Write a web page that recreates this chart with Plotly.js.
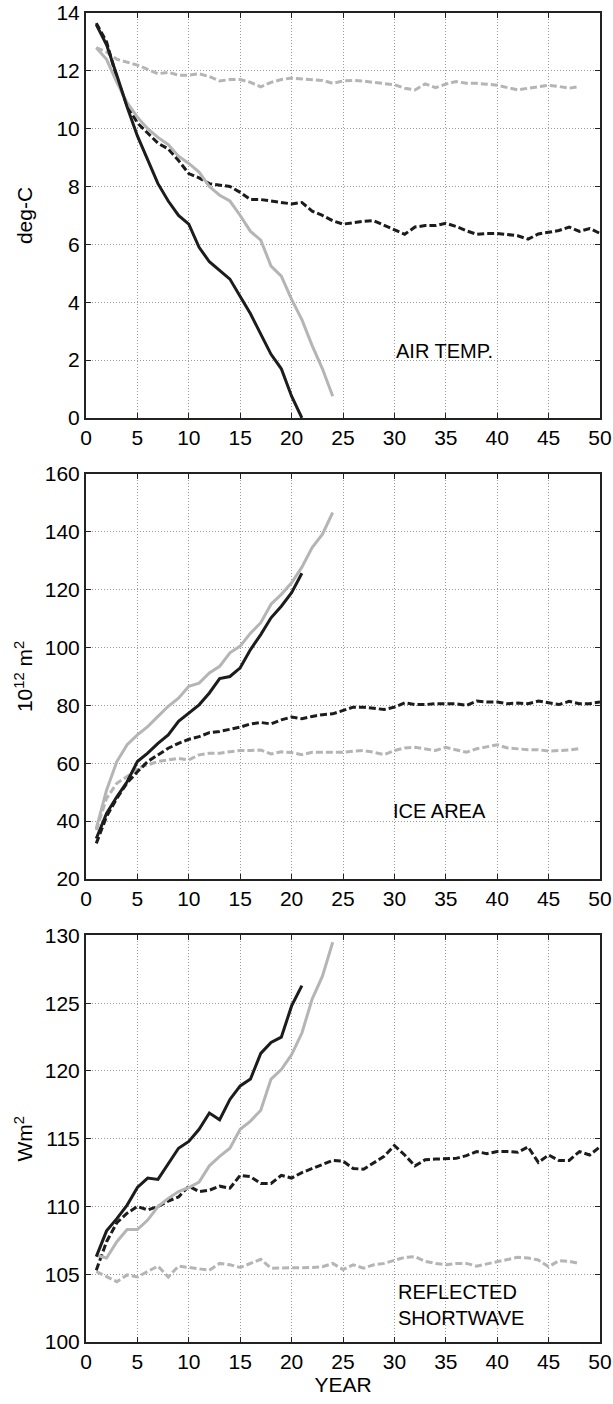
<!DOCTYPE html>
<html>
<head>
<meta charset="utf-8">
<script src="https://cdn.plot.ly/plotly-3.0.1.min.js"></script>
<style>
  html, body { margin: 0; padding: 0; background: #fff; }
  #chart { width: 613px; height: 1404px; }
</style>
</head>
<body>
<div id="chart"></div>
<script>
// ---- Data ----
const years = [1,2,3,4,5,6,7,8,9,10,11,12,13,14,15,16,17,18,19,20,21,22,23,24,25,
               26,27,28,29,30,31,32,33,34,35,36,37,38,39,40,41,42,43,44,45,46,47,48,49,50];

// AIR TEMP. (deg-C)
const tempBlackSolid = [13.6, 12.9, 11.85, 10.75, 9.75, 8.9, 8.1, 7.5, 7.0, 6.7, 5.9, 5.4, 5.1, 4.8, 4.2, 3.6, 2.9, 2.2, 1.7, 0.75, 0];
const tempGraySolid  = [12.8, 12.4, 11.6, 10.9, 10.4, 10.0, 9.7, 9.45, 9.05, 8.8, 8.5, 8.0, 7.7, 7.5, 7.0, 6.45, 6.15, 5.25, 4.9, 4.1, 3.4, 2.5, 1.7, 0.75];
const tempBlackDash  = [13.65, 13.0, 11.75, 10.8, 10.2, 9.85, 9.5, 9.3, 8.9, 8.45, 8.3, 8.1, 8.05, 8.0, 7.8, 7.55, 7.55, 7.5, 7.45, 7.4,
                        7.45, 7.15, 7.0, 6.82, 6.7, 6.75, 6.8, 6.82, 6.67, 6.52, 6.35, 6.6, 6.65, 6.65, 6.73, 6.62, 6.47, 6.35, 6.38, 6.38,
                        6.33, 6.3, 6.18, 6.36, 6.42, 6.48, 6.6, 6.45, 6.55, 6.38];
const tempGrayDash   = [12.8, 12.65, 12.4, 12.3, 12.2, 12.05, 11.9, 11.95, 11.85, 11.85, 11.9, 11.8, 11.65, 11.7, 11.7, 11.6, 11.45, 11.6, 11.7, 11.75,
                        11.72, 11.71, 11.67, 11.57, 11.65, 11.67, 11.65, 11.6, 11.57, 11.52, 11.4, 11.34, 11.55, 11.42, 11.54, 11.63, 11.57, 11.57, 11.54, 11.5,
                        11.42, 11.34, 11.4, 11.46, 11.5, 11.46, 11.4, 11.46];

// ICE AREA (10^12 m^2)
const iceBlackSolid = [34, 42.7, 48.4, 53.6, 60.6, 63.5, 66.9, 69.8, 74.5, 77.3, 80.2, 84.3, 89.3, 90, 93, 99.3, 104.5, 110.3, 114.3, 119, 125.7];
const iceGraySolid  = [37.5, 50.7, 60.6, 66.4, 69.8, 72.7, 76.2, 79.7, 82.5, 86.6, 87.7, 91.2, 93.5, 98.2, 100.5, 105, 108.6, 115, 118.4, 122.4, 127.8, 134.6, 139.2, 146.7];
const iceBlackDash  = [32.3, 41.6, 47.9, 53.2, 57.1, 60.6, 62.9, 65.2, 66.9, 68.3, 69.2, 70.6, 71, 71.8, 72.5, 73.6, 74.1, 73.6, 75, 76,
                       75.4, 76.2, 76.8, 77.1, 78.3, 79.4, 79.4, 79.1, 78.6, 79.4, 80.9, 80.3, 80.3, 80.6, 80.6, 80.6, 80, 81.5, 81.2, 81.2,
                       80.6, 80.8, 80.6, 81.5, 80.9, 80.3, 81.4, 80.6, 80.6, 81.2];
const iceGrayDash   = [36.9, 47.9, 53.1, 55.4, 58.3, 59.4, 60.6, 61.2, 61.7, 61.2, 62.9, 63.5, 63.5, 64, 64.4, 64.4, 64.6, 63.2, 64, 63.7,
                       63, 63.8, 63.8, 63.8, 63.8, 64.2, 64.4, 63.8, 63, 64.4, 65.3, 65.5, 65, 64.4, 65.5, 64.7, 63.8, 65, 65.8, 66.4,
                       65.3, 65, 64.7, 64.7, 64.2, 64.4, 64.6, 65.1];

// REFLECTED SHORTWAVE (Wm^2)
const swBlackSolid = [106.3, 108.2, 109.1, 110.1, 111.4, 112.1, 112.0, 113.2, 114.3, 114.8, 115.7, 116.9, 116.4, 117.9, 118.9, 119.4, 121.3, 122.1, 122.5, 124.8, 126.3];
const swGraySolid  = [106.4, 106.2, 107.4, 108.3, 108.3, 109.0, 110.0, 110.6, 111.1, 111.4, 111.8, 113.0, 113.7, 114.3, 115.7, 116.3, 117.1, 119.4, 120.1, 121.2, 122.8, 125.3, 127.0, 129.5];
const swBlackDash  = [105.3, 107.4, 108.8, 109.5, 110.0, 109.75, 110.0, 110.4, 110.7, 111.5, 111.1, 111.2, 111.5, 111.35, 112.3, 112.2, 111.7, 111.7, 112.3, 112.1,
                      112.5, 112.8, 113.15, 113.4, 113.35, 112.8, 112.75, 113.2, 113.7, 114.5, 113.8, 113.0, 113.45, 113.5, 113.55, 113.55, 113.75, 114.05, 113.9, 114.05,
                      114.05, 114.0, 114.4, 113.25, 113.8, 113.4, 113.4, 114.05, 113.8, 114.4];
const swGrayDash   = [105.2, 104.8, 104.45, 104.95, 104.8, 105.2, 105.6, 104.8, 105.6, 105.5, 105.4, 105.3, 105.8, 105.7, 105.5, 105.8, 106.1, 105.45, 105.45, 105.5,
                      105.5, 105.5, 105.55, 105.8, 105.35, 105.7, 105.45, 105.7, 105.8, 106.05, 106.25, 106.3, 105.95, 105.8, 105.7, 105.8, 105.8, 105.6, 105.75, 105.95,
                      106.1, 106.25, 106.2, 106.05, 105.55, 106.0, 105.95, 105.8];

const panelLabels = ['AIR TEMP.', 'ICE AREA', 'REFLECTED<br>SHORTWAVE'];
const yTitles = ['deg-C', '10<sup>12</sup> m<sup>2</sup>', 'Wm<sup>2</sup>'];
const xTitle = 'YEAR';

// ---- Styling ----
const BLACK = '#1c1c1c';
const GRAY = '#b5b5b5';
const DASH = '7px,3px';
const FONT = 'Liberation Sans, Arial, Helvetica, sans-serif';

function line(y, color, dashed, xa, ya) {
  return {
    x: years.slice(0, y.length), y: y, xaxis: xa, yaxis: ya,
    type: 'scatter', mode: 'lines', showlegend: false, hoverinfo: 'skip',
    line: { color: color, width: 3, dash: dashed ? DASH : 'solid' }
  };
}

const panels = [
  { xa: 'x',  ya: 'y',  bs: tempBlackSolid, gs: tempGraySolid, bd: tempBlackDash, gd: tempGrayDash },
  { xa: 'x2', ya: 'y2', bs: iceBlackSolid,  gs: iceGraySolid,  bd: iceBlackDash,  gd: iceGrayDash },
  { xa: 'x3', ya: 'y3', bs: swBlackSolid,   gs: swGraySolid,   bd: swBlackDash,   gd: swGrayDash }
];

const traces = [];
panels.forEach(p => {
  traces.push(line(p.gd, GRAY, true, p.xa, p.ya));
  traces.push(line(p.bd, BLACK, true, p.xa, p.ya));
  traces.push(line(p.gs, GRAY, false, p.xa, p.ya));
  traces.push(line(p.bs, BLACK, false, p.xa, p.ya));
});

const tickFont = { family: FONT, size: 21, color: '#000' };
const GRID = { showgrid: true, gridcolor: '#9a9a9a', griddash: '1px,2px', gridwidth: 1 };

function xAxis(anchor, withTitle) {
  const a = Object.assign({
    anchor: anchor, domain: [0, 1], range: [0, 50], tick0: 0, dtick: 5,
    zeroline: false, showline: true, linecolor: '#222', linewidth: 2, mirror: 'ticks',
    ticks: 'inside', ticklen: 5, tickcolor: '#222', tickfont: tickFont
  }, GRID);
  if (withTitle) a.title = { text: xTitle, font: { family: FONT, size: 21, color: '#000' }, standoff: 4 };
  return a;
}
function yAxis(anchor, domain, range, dtick, title, standoff) {
  return Object.assign({
    anchor: anchor, domain: domain, range: range, dtick: dtick,
    zeroline: false, showline: true, linecolor: '#222', linewidth: 2, mirror: 'ticks',
    ticks: 'inside', ticklen: 5, tickcolor: '#222', tickfont: tickFont,
    title: { text: title, font: { family: FONT, size: 21, color: '#000' }, standoff: standoff }
  }, GRID);
}

const layout = {
  width: 613, height: 1404,
  margin: { l: 86, r: 13, t: 13, b: 62 },
  paper_bgcolor: '#fff', plot_bgcolor: '#fff',
  font: { family: FONT, color: '#000' },
  xaxis:  xAxis('y', false),
  xaxis2: xAxis('y2', false),
  xaxis3: xAxis('y3', true),
  yaxis:  yAxis('x',  [0.6953, 1],      [0, 14],    2,  yTitles[0], 18),
  yaxis2: yAxis('x2', [0.3484, 0.6531], [20, 160],  20, yTitles[1], 6),
  yaxis3: yAxis('x3', [0, 0.3059],      [100, 130], 5,  yTitles[2], 6),
  annotations: [
    { xref: 'x',  yref: 'y',  x: 30,   y: 2.3,   text: panelLabels[0], showarrow: false, xanchor: 'left', yanchor: 'middle', font: { family: FONT, size: 20, color: '#000' } },
    { xref: 'x2', yref: 'y2', x: 29.7, y: 43.5,  text: panelLabels[1], showarrow: false, xanchor: 'left', yanchor: 'middle', font: { family: FONT, size: 20, color: '#000' } },
    { xref: 'x3', yref: 'y3', x: 30.2, y: 102.7, text: panelLabels[2], showarrow: false, xanchor: 'left', yanchor: 'middle', align: 'left', font: { family: FONT, size: 20, color: '#000' } }
  ]
};

Plotly.newPlot('chart', traces, layout, { staticPlot: true, displayModeBar: false });
</script>
</body>
</html>
